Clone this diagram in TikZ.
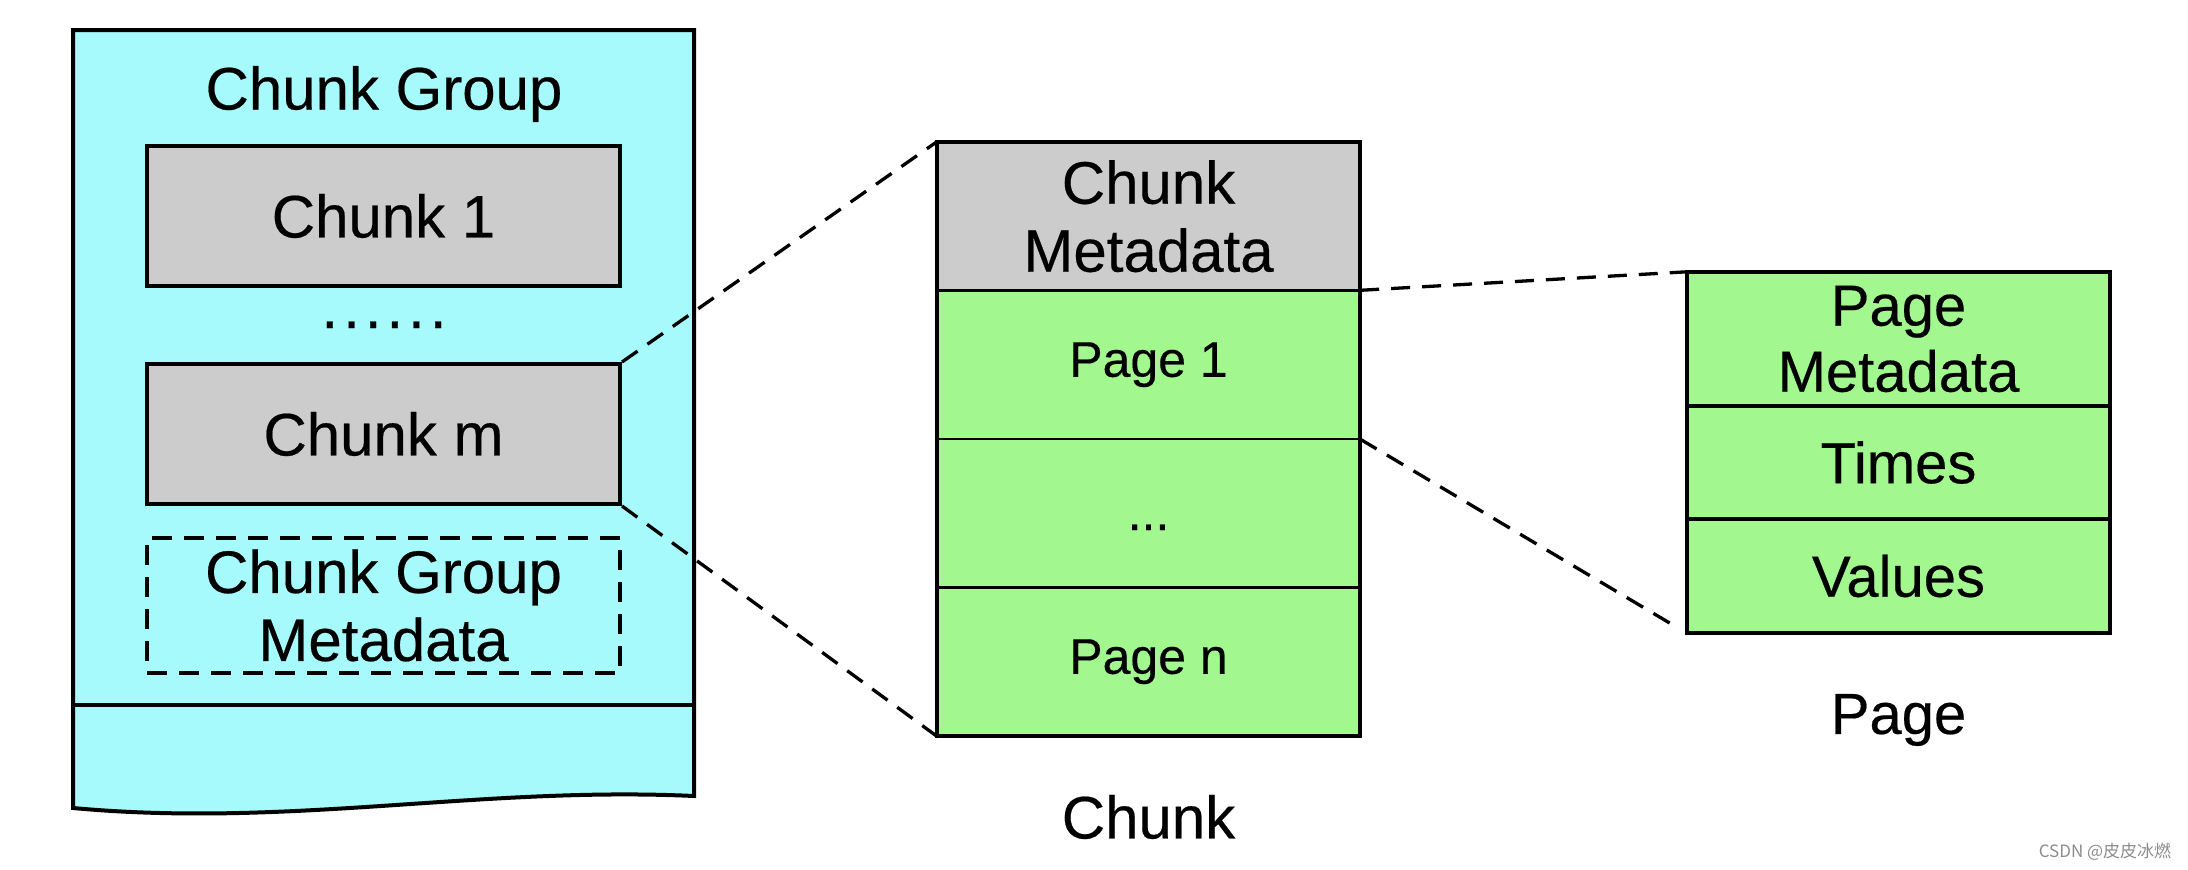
\documentclass[tikz,border=0pt]{standalone}
\usepackage{fontspec}
\setmainfont{Liberation Sans}[FakeBold=0.35]
\newfontfamily\cjk{Noto Sans CJK SC}
\definecolor{cyanfill}{RGB}{166,250,252}
\definecolor{grayfill}{RGB}{204,204,204}
\definecolor{greenfill}{RGB}{163,247,143}
\begin{document}
\begin{tikzpicture}[x=1pt,y=-1pt,
  bigtext/.style={font=\fontsize{60}{68}\selectfont},
  midtext/.style={font=\fontsize{58}{66}\selectfont},
  smalltext/.style={font=\fontsize{50}{58}\selectfont},
  cell/.style={inner sep=0pt, align=center, anchor=center},
  groupbox/.style={cell, draw, line width=4pt, minimum width=473pt, bigtext},
  chunkcell/.style={cell, minimum width=423pt, minimum height=148.5pt},
  pagecell/.style={cell, minimum width=423pt, fill=greenfill, midtext},
  frame/.style={line width=4pt},
  divider/.style={line width=3.5pt},
  thindivider/.style={line width=2.2pt},
  conn/.style={line width=3.3pt, dash pattern=on 19pt off 12pt}
]
\useasboundingbox (0,0) rectangle (2188,870);

% Chunk group container
\draw[frame, fill=cyanfill] (73,30) -- (694,30) -- (694,796)
  .. controls (480,786) and (290,828) .. (73,808) -- cycle;
\coordinate (sepL) at (73,705);
\coordinate (sepR) at (694,705);
\draw[divider] (sepL) -- (sepR);

\node[cell, bigtext] (cgtitle) at (384,94) {Chunk Group};
\node[groupbox, fill=grayfill, minimum height=140pt] (chunk1) at (383.5,216) {Chunk 1};
\node[cell, bigtext, anchor=base] (gdots) at (384,328) {.\hspace{5pt}.\hspace{5pt}.\hspace{5pt}.\hspace{5pt}.\hspace{5pt}.};
\node[groupbox, fill=grayfill, minimum height=140pt] (chunkm) at (383.5,434) {Chunk m};
\node[groupbox, line width=3.3pt, dash pattern=on 20pt off 12pt, minimum height=135pt] (cgmeta) at (383.5,605.5) {Chunk Group\\Metadata};

% Chunk
\node[chunkcell, fill=grayfill, bigtext] (cmeta) at (1148.5,216.25) {Chunk\\Metadata};
\node[chunkcell, fill=greenfill, smalltext] (page1) at (1148.5,364.75) {Page 1};
\node[chunkcell, fill=greenfill, smalltext] (pdots) at (1148.5,513.25) {};
\node[cell, smalltext, anchor=base] (pdotstext) at (1148.5,530) {...};
\node[chunkcell, fill=greenfill, smalltext] (pagen) at (1148.5,661.75) {Page n};
\draw[divider] (cmeta.south west) -- (cmeta.south east);
\draw[thindivider] (page1.south west) -- (page1.south east);
\draw[divider] (pdots.south west) -- (pdots.south east);
\draw[frame] (cmeta.north west) rectangle (pagen.south east);
\node[cell, bigtext] (chunklabel) at (1148.5,817) {Chunk};

% Page
\node[pagecell, minimum height=134pt] (pmeta) at (1898.5,339) {Page\\Metadata};
\node[pagecell, minimum height=113pt] (times) at (1898.5,462.5) {Times};
\node[pagecell, minimum height=114pt] (values) at (1898.5,576) {Values};
\draw[divider] (pmeta.south west) -- (pmeta.south east);
\draw[divider] (times.south west) -- (times.south east);
\draw[frame] (pmeta.north west) rectangle (values.south east);
\node[cell, midtext] (pagelabel) at (1898.5,720) {Page};

% Connectors
\draw[conn] (chunkm.north east) -- (cmeta.north west);
\draw[conn, shorten >=-9pt] (chunkm.south east) -- (pagen.south west);
\draw[conn] (page1.north east) -- (pmeta.north west);
\draw[conn, shorten >=20pt] (page1.south east) -- (values.south west);

% Watermark
\node[cell, font=\cjk\fontsize{17}{20}\selectfont, text=black!45] (wm) at (2105,852) {CSDN @皮皮冰燃};
\end{tikzpicture}
\end{document}
